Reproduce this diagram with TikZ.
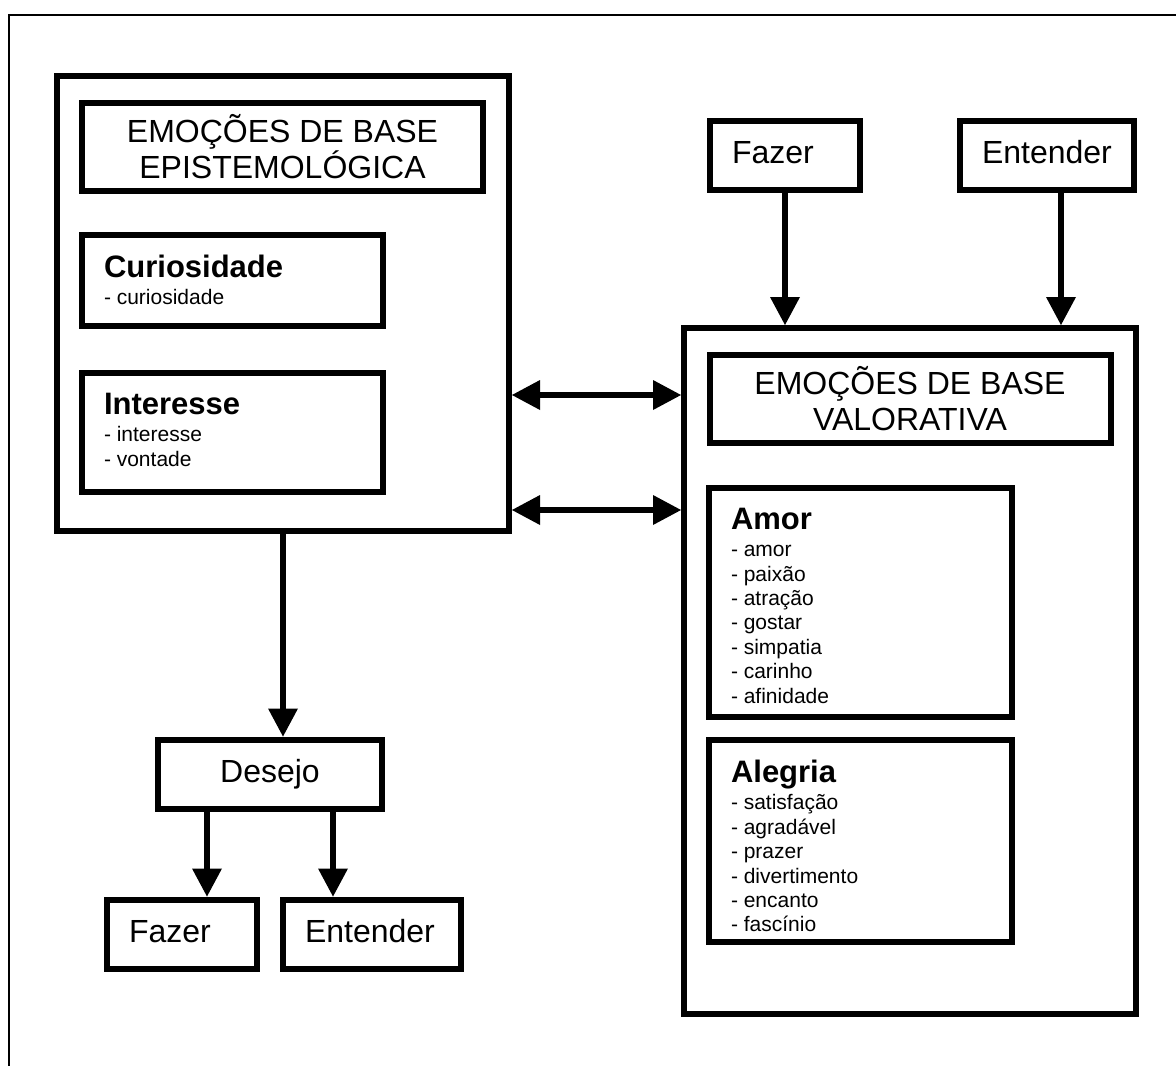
\documentclass[tikz,border=0pt]{standalone}
\usepackage{fontspec}
\setmainfont{Liberation Sans}
\usetikzlibrary{arrows.meta}

\newcommand{\tit}{\fontsize{32}{36}\selectfont}
\newcommand{\cab}{\fontsize{31}{36}\selectfont\bfseries}
\newcommand{\itm}{\normalfont\fontsize{21}{24.4}\selectfont}

\begin{document}
\begin{tikzpicture}[>={Triangle[length=28pt,width=30pt,line width=0pt]}, x=1pt, y=-1pt,
    caixa/.style={draw, line width=6pt, inner sep=0pt},
    titulo/.style={caixa, align=center, font=\tit, minimum width=401pt, minimum height=88pt},
    simples/.style={caixa, inner xsep=22pt, align=left, font=\tit, minimum height=69pt, text height=23pt, text depth=7pt},
    lista/.style={caixa, inner xsep=22pt, inner ysep=20pt},
    seta/.style={->, line width=6pt}]

    \useasboundingbox (0,0) rectangle (1176,1066);
    \draw[line width=2pt] (9,1066) -- (9,15) -- (1176,15);

    \node[caixa, minimum width=452pt, minimum height=455pt] (epi) at (283,303.5) {};
    \node[titulo] (epititulo) at (282.5,146.5) {EMOÇÕES DE BASE\\EPISTEMOLÓGICA};
    \node[lista] (curiosidade) at (232.5,280.5) {\parbox[t][51pt][t]{257pt}{\cab Curiosidade\\[3pt]\itm - curiosidade}};
    \node[lista] (interesse) at (232.5,432.5) {\parbox[t][79pt][t]{257pt}{\cab Interesse\\[3pt]\itm - interesse\\ - vontade}};

    \node[caixa, minimum width=452pt, minimum height=686pt] (valo) at (910,671) {};
    \node[titulo] (valtitulo) at (910,398.5) {EMOÇÕES DE BASE\\VALORATIVA};
    \node[lista] (amor) at (860.5,602.5) {\parbox[t][189pt][t]{259pt}{\cab Amor\\[3pt]\itm - amor\\ - paixão\\ - atração\\ - gostar\\ - simpatia\\ - carinho\\ - afinidade}};
    \node[lista] (alegria) at (860.5,841) {\parbox[t][162pt][t]{259pt}{\cab Alegria\\[3pt]\itm - satisfação\\ - agradável\\ - prazer\\ - divertimento\\ - encanto\\ - fascínio}};

    \node[simples, text width=106pt] (fazerT) at (785,155.5) {Fazer};
    \node[simples, text width=130pt] (entenderT) at (1047,155.5) {Entender};

    \node[simples, align=center, text width=180pt] (desejo) at (270,774) {Desejo};
    \node[simples, text width=106pt] (fazerB) at (182,934) {Fazer};
    \node[simples, text width=134pt] (entenderB) at (372,934) {Entender};

    \draw[seta] (fazerT.south) -- (fazerT.south |- valo.north);
    \draw[seta] ([xshift=14pt]entenderT.south) -- ([xshift=14pt]entenderT.south |- valo.north);

    \draw[seta, <->] ([yshift=-91.5pt]epi.east) -- ([yshift=-91.5pt]epi.east -| valo.west);
    \draw[seta, <->] ([yshift=-206.5pt]epi.east) -- ([yshift=-206.5pt]epi.east -| valo.west);

    \draw[seta] (epi.south) -- (epi.south |- desejo.north);
    \draw[seta] ([xshift=-63pt]desejo.south) -- ([xshift=-63pt]desejo.south |- fazerB.north);
    \draw[seta] ([xshift=63pt]desejo.south) -- ([xshift=63pt]desejo.south |- entenderB.north);
\end{tikzpicture}
\end{document}
